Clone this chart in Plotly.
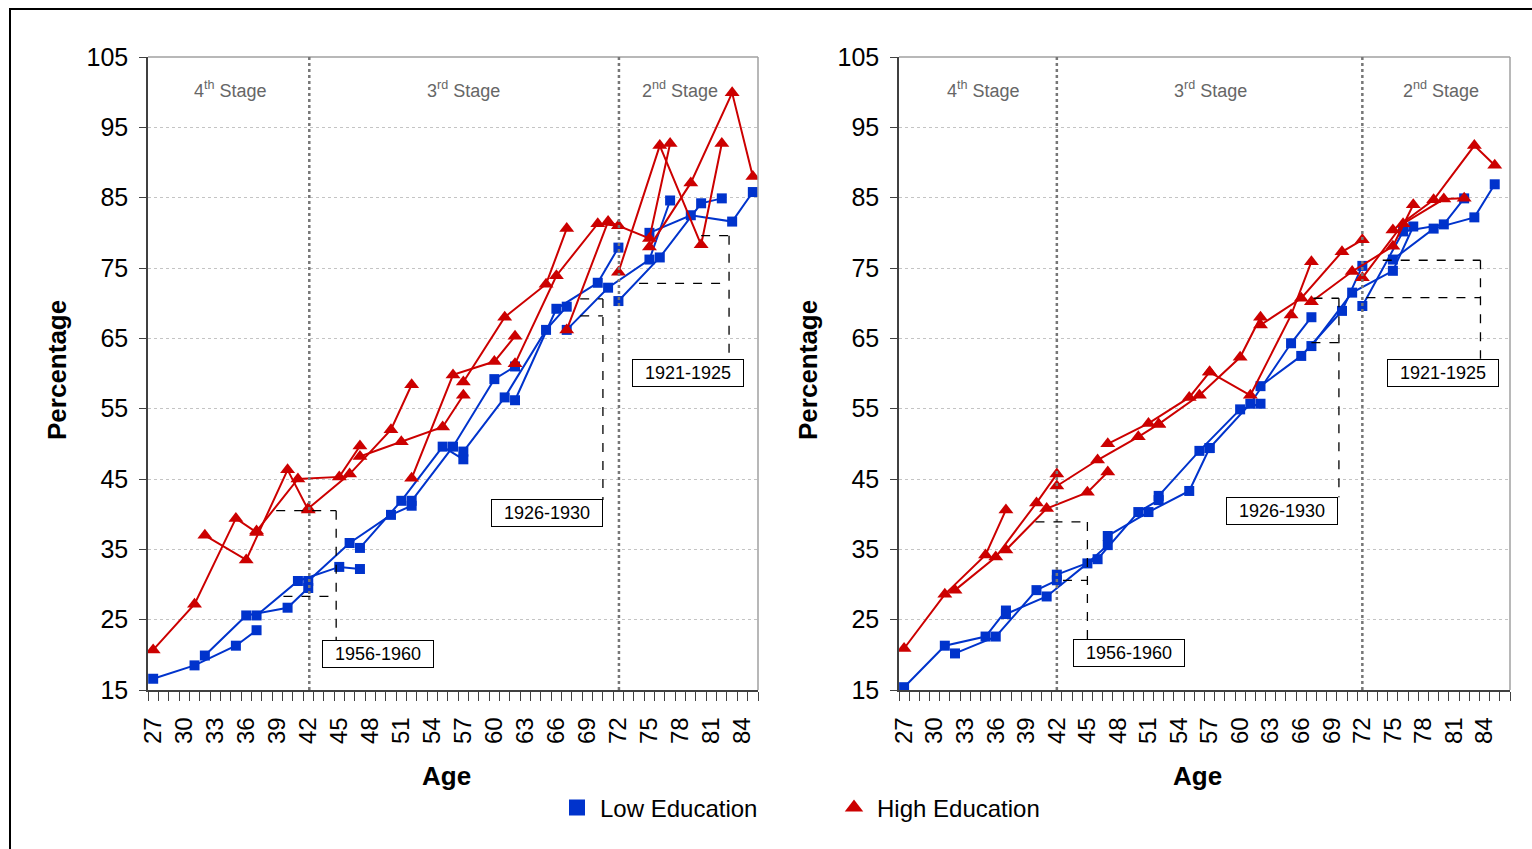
import plotly.graph_objects as go

W, H = 1532, 849

# ---------------- data ----------------
cohort_ages = [
    [27, 31, 35, 37], [32, 36, 40, 42], [37, 41, 45, 47], [42, 46, 50, 52],
    [47, 51, 55, 57], [52, 56, 60, 62], [57, 61, 65, 67], [62, 66, 70, 72],
    [67, 71, 75, 77], [72, 76, 80, 82], [75, 79, 83, 85],
]

low_left = [
    [16.6, 18.5, 21.3, 23.5], [19.9, 25.6, 26.7, 29.5], [25.6, 30.5, 32.5, 32.2],
    [30.5, 35.9, 39.9, 41.2], [35.2, 41.9, 49.6, 47.8], [41.9, 49.6, 59.2, 61.0],
    [48.9, 56.6, 66.2, 69.5], [56.2, 69.2, 72.9, 77.9], [66.2, 72.2, 76.2, 84.6],
    [70.3, 76.5, 84.2, 84.9], [80.0, 82.5, 81.6, 85.8],
]
high_left = [
    [20.7, 27.2, 39.4, 37.4], [37.0, 33.5, 46.3, 40.6], [37.6, 45.0, 45.3, 49.7],
    [40.8, 45.7, 52.0, 58.4], [48.2, 50.3, 52.4, 56.9], [45.1, 59.8, 61.7, 65.3],
    [58.8, 68.0, 72.7, 80.6], [61.4, 73.9, 81.3, 81.0], [66.2, 81.6, 79.2, 92.7],
    [74.4, 92.4, 78.3, 92.7], [78.0, 87.1, 99.9, 88.0],
]
low_right = [
    [15.4, 21.3, 22.6, 26.3], [20.2, 22.6, 29.2, 30.6], [25.8, 28.3, 33.0, 35.6],
    [31.4, 33.6, 40.3, 42.0], [36.9, 40.3, 43.3, 49.4], [42.6, 49.0, 54.9, 55.7],
    [49.4, 55.7, 64.3, 68.0], [58.2, 62.5, 68.9, 75.3], [63.9, 71.5, 74.6, 80.9],
    [69.6, 80.2, 81.2, 84.9], [76.2, 80.6, 82.2, 86.9],
]
high_right = [
    [20.9, 28.6, 34.2, 40.6], [29.2, 33.9, 41.6, 45.7], [34.9, 40.8, 43.1, 46.0],
    [44.0, 47.7, 51.0, 52.8], [50.0, 52.9, 56.6, 60.2], [52.8, 56.9, 62.3, 68.0],
    [60.2, 56.9, 68.3, 75.9], [66.9, 70.7, 77.3, 79.0], [70.2, 74.5, 78.1, 84.0],
    [73.6, 81.3, 84.8, 84.9], [80.4, 84.7, 92.4, 89.6],
]

age_ticks = list(range(27, 85, 3))
pct_ticks = list(range(15, 106, 10))
stage_labels = ["4<sup>th</sup> Stage", "3<sup>rd</sup> Stage", "2<sup>nd</sup> Stage"]
cohort_labels = ["1956-1960", "1926-1930", "1921-1925"]

BLUE = "#0033cc"
RED = "#cc0000"
FONT = "Liberation Sans, Arial, sans-serif"

fig = go.Figure()

panels = [
    dict(xa="x", ya="y", low=low_left, high=high_left),
    dict(xa="x2", ya="y2", low=low_right, high=high_right),
]

for p in panels:
    for ages, vals in zip(cohort_ages, p["low"]):
        fig.add_trace(go.Scatter(
            x=ages, y=vals, xaxis=p["xa"], yaxis=p["ya"], mode="lines+markers",
            line=dict(color=BLUE, width=2),
            marker=dict(symbol="square", size=10, color=BLUE),
            showlegend=False, hoverinfo="skip"))
for p in panels:
    for ages, vals in zip(cohort_ages, p["high"]):
        fig.add_trace(go.Scatter(
            x=ages, y=vals, xaxis=p["xa"], yaxis=p["ya"], mode="lines+markers",
            line=dict(color=RED, width=2),
            marker=dict(symbol="triangle-up", size=13, color=RED),
            showlegend=False, hoverinfo="skip"))

# legend entries
fig.add_trace(go.Scatter(x=[None], y=[None], mode="markers", name="Low Education",
                         marker=dict(symbol="square", size=16, color=BLUE)))
fig.add_trace(go.Scatter(x=[None], y=[None], mode="markers", name="High Education",
                         marker=dict(symbol="triangle-up", size=18, color=RED)))

ydom = [1 - 690 / H, 1 - 57 / H]

def xaxis_cfg(dom, rng, anchor):
    return dict(
        domain=dom, range=rng, anchor=anchor, automargin=False,
        tickmode="array", tickvals=age_ticks, ticktext=[str(a) for a in age_ticks],
        tickangle=-90, ticks="", ticklabelstandoff=16,
        tickfont=dict(size=24, color="black", family=FONT),
        showline=True, linecolor="#404040", linewidth=1.5,
        showgrid=False, zeroline=False,
        minor=dict(tickmode="linear", tick0=26.5, dtick=1, ticks="outside",
                   ticklen=9, tickcolor="#404040", tickwidth=1, showgrid=False),
    )

def yaxis_cfg(anchor):
    return dict(
        domain=ydom, range=[15, 105], anchor=anchor, automargin=False,
        tickmode="array", tickvals=pct_ticks, ticks="outside", ticklen=7,
        tickcolor="#404040", tickwidth=1, ticklabelstandoff=6,
        tickfont=dict(size=25, color="black", family=FONT),
        showline=True, linecolor="#404040", linewidth=1.5,
        showgrid=True, gridcolor="#c4c4c4", griddash="dot", gridwidth=1,
        zeroline=False,
    )

fig.update_layout(
    width=W, height=H,
    margin=dict(l=0, r=0, t=0, b=0, autoexpand=False),
    paper_bgcolor="white", plot_bgcolor="white",
    font=dict(family=FONT, color="black"),
    xaxis=xaxis_cfg([148 / W, 758 / W], [26.5, 85.5], "y"),
    yaxis=yaxis_cfg("x"),
    xaxis2=xaxis_cfg([899 / W, 1510 / W], [26.5, 86.5], "y2"),
    yaxis2=yaxis_cfg("x2"),
    legend=dict(orientation="h", xref="container", yref="container",
                x=554 / W, y=1 - 808 / H, xanchor="left", yanchor="middle",
                font=dict(size=24, family=FONT, color="black"),
                entrywidth=226, entrywidthmode="pixels", itemsizing="trace",
                itemwidth=36, bgcolor="rgba(0,0,0,0)"),
)

shapes = []
annotations = []

# outer frame
shapes.append(dict(type="rect", xref="paper", yref="paper", x0=10 / W, x1=1.05,
                   y0=-0.05, y1=1 - 9 / H, line=dict(color="black", width=2)))

for xa, ya in [("x", "y"), ("x2", "y2")]:
    # top & right plot border
    shapes.append(dict(type="line", xref=xa + " domain", yref=ya + " domain",
                       x0=0, x1=1, y0=1, y1=1, line=dict(color="#a0a0a0", width=1.5)))
    shapes.append(dict(type="line", xref=xa + " domain", yref=ya + " domain",
                       x0=1, x1=1, y0=0, y1=1, line=dict(color="#a0a0a0", width=1.5)))

# stage separators
for xa, ya, xs in [("x", "y", [42.1, 72.05]), ("x2", "y2", [42, 72])]:
    for xv in xs:
        shapes.append(dict(type="line", xref=xa, yref=ya, x0=xv, x1=xv, y0=15, y1=105,
                           line=dict(color="#777777", width=2.5, dash="dot")))

# cohort brackets: (top_y, top_x0, bot_y, bot_x0, x_end, box_top, label_x, label_y)
brackets = {
    ("x", "y"): [
        (40.5, 38.9, 28.3, 39.6, 44.7, 22.1, 48.7, 20.1),
        (70.6, 68.3, 68.2, 68.3, 70.5, 42.0, 65.1, 40.1),
        (79.6, 80.0, 72.8, 74.0, 82.7, 62.1, 78.7, 60.1),
    ],
    ("x2", "y2"): [
        (38.9, 39.9, 30.6, 42.6, 45.0, 22.2, 49.1, 20.3),
        (70.7, 67.2, 64.4, 67.0, 69.7, 42.4, 64.1, 40.5),
        (76.1, 74.0, 70.8, 72.4, 83.6, 62.1, 79.9, 60.1),
    ],
}
dash_line = dict(color="black", width=1.3, dash="dash")
for (xa, ya), items in brackets.items():
    for lab, (ty, tx0, by, bx0, xe, bt, lx, ly) in zip(cohort_labels, items):
        shapes.append(dict(type="line", xref=xa, yref=ya, x0=tx0, x1=xe, y0=ty, y1=ty, line=dash_line))
        shapes.append(dict(type="line", xref=xa, yref=ya, x0=bx0, x1=xe, y0=by, y1=by, line=dash_line))
        shapes.append(dict(type="line", xref=xa, yref=ya, x0=xe, x1=xe, y0=ty, y1=bt, line=dash_line))
        annotations.append(dict(xref=xa, yref=ya, x=lx, y=ly, text=lab, showarrow=False,
                                xanchor="center", yanchor="middle",
                                font=dict(size=18, family=FONT, color="black"),
                                bgcolor="white", bordercolor="black", borderwidth=1,
                                width=108, height=24, borderpad=1))

# stage labels
for xa, ya, xs in [("x", "y", [34.5, 57.0, 78.0]), ("x2", "y2", [34.75, 57.05, 79.75])]:
    for lab, xv in zip(stage_labels, xs):
        annotations.append(dict(xref=xa, yref=ya, x=xv, y=100.45, text=lab, showarrow=False,
                                xanchor="center", yanchor="middle",
                                font=dict(size=18, family=FONT, color="#666666")))

# axis titles
for xp in [57, 808]:
    annotations.append(dict(xref="paper", yref="paper", x=xp / W, y=1 - 370 / H,
                            xanchor="center", yanchor="middle",
                            text="<b>Percentage</b>", textangle=-90, showarrow=False,
                            font=dict(size=26, family=FONT, color="black")))
for xp in [446, 1197]:
    annotations.append(dict(xref="paper", yref="paper", x=xp / W, y=1 - 776 / H,
                            xanchor="center", yanchor="middle",
                            text="<b>Age</b>", showarrow=False,
                            font=dict(size=26, family=FONT, color="black")))

fig.update_layout(shapes=shapes, annotations=annotations)
fig.write_html("out.html")
